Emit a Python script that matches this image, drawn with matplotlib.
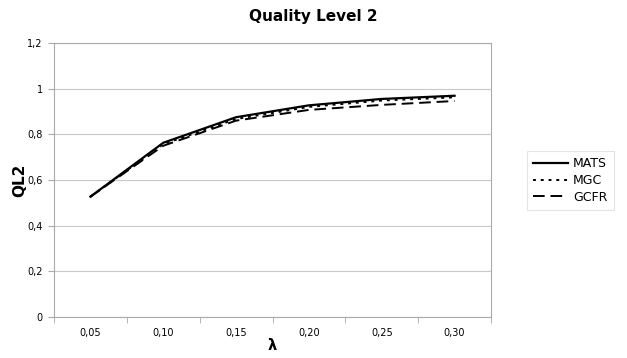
import matplotlib
matplotlib.use("Agg")
import matplotlib.pyplot as plt
import numpy as np

categories = ["0,05", "0,10", "0,15", "0,20", "0,25", "0,30"]
mats = [0.527, 0.763, 0.875, 0.927, 0.955, 0.969]
mgc = [0.527, 0.757, 0.867, 0.920, 0.948, 0.962]
gcfr = [0.527, 0.750, 0.860, 0.907, 0.929, 0.946]

plt.rcParams['font.family'] = ['DejaVu Sans']
fig = plt.figure(figsize=(6.27, 3.58), dpi=100)
ax = fig.add_axes([54/627, 1-317/358, (491-54)/627, (317-43)/358])

x = np.arange(len(categories))
ax.plot(x, mats, color='black', lw=1.6, linestyle='-', label='MATS')
ax.plot(x, mgc, color='black', lw=1.4, linestyle=(0, (1.5, 2.5)), label='MGC')
ax.plot(x, gcfr, color='black', lw=1.4, linestyle=(0, (6, 3)), label='GCFR')

ax.set_xlim(-0.5, len(categories) - 0.5)
ax.set_ylim(0, 1.2)
yt = [0, 0.2, 0.4, 0.6, 0.8, 1.0, 1.2]
ax.set_yticks(yt)
ax.set_yticklabels(["0", "0,2", "0,4", "0,6", "0,8", "1", "1,2"], fontsize=7)
ax.set_xticks(x)
ax.set_xticklabels(categories, fontsize=7)
ax.set_xticks(np.arange(len(categories) + 1) - 0.5, minor=True)
ax.tick_params(axis='x', which='major', length=0, pad=8)
ax.tick_params(axis='x', which='minor', length=4, color='#aaaaaa', direction='out')
ax.tick_params(axis='y', length=4, color='#aaaaaa', pad=4)
ax.grid(axis='y', color='#c8c8c8', lw=0.8)
ax.set_axisbelow(True)
for s in ax.spines.values():
    s.set_color('#aaaaaa')
    s.set_linewidth(0.8)

fig.text(313/627, 1-17/358, "Quality Level 2", ha='center', va='center', fontsize=11, fontweight='bold')
fig.text(20/627, 1-180/358, "QL2", ha='center', va='center', rotation=90, fontsize=11, fontweight='bold')
fig.text(272/627, 1-346/358, "λ", ha='center', va='center', fontsize=10.5, fontweight='bold')

leg = fig.legend(loc='upper left', bbox_to_anchor=(527/627, 1-151/358), fontsize=9,
                 frameon=True, fancybox=False, handlelength=2.8, handletextpad=0.4,
                 borderpad=0.5, labelspacing=0.3, borderaxespad=0)
leg.get_frame().set_edgecolor('#dddddd')
leg.get_frame().set_linewidth(0.8)

fig.savefig("out.png", dpi=100)
